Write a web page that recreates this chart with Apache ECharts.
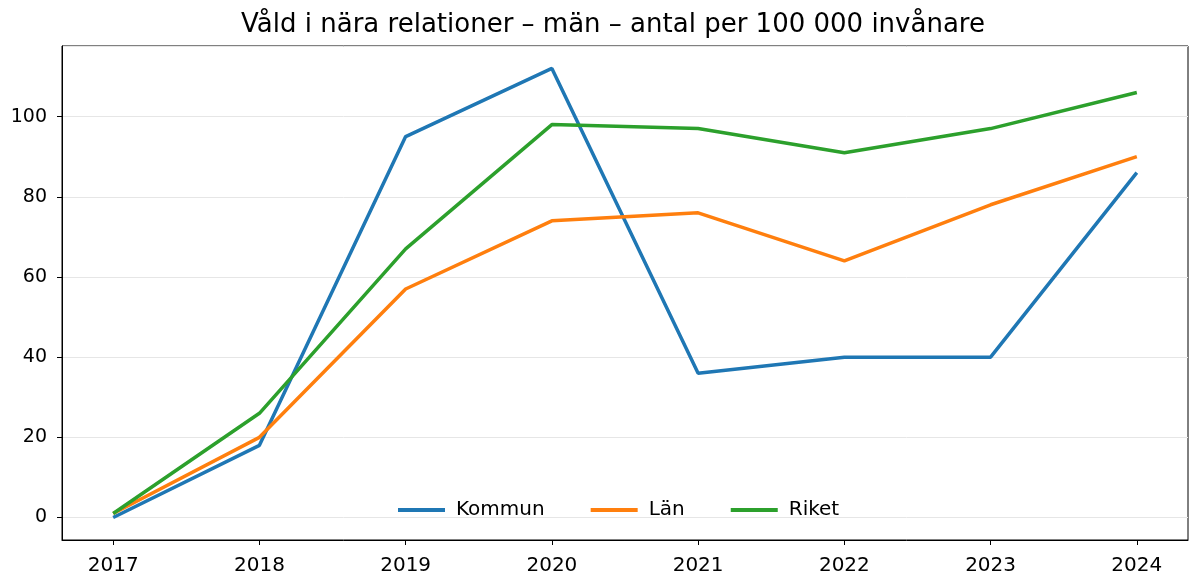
<!DOCTYPE html>
<html>
<head>
<meta charset="utf-8">
<script src="https://cdn.jsdelivr.net/npm/echarts@6/dist/echarts.min.js"></script>
<style>
  html, body { margin: 0; padding: 0; background: #fff; }
  #chart { width: 1192px; height: 577px; }
</style>
</head>
<body>
<div id="chart"></div>
<script>
// Data
const years = [2017, 2018, 2019, 2020, 2021, 2022, 2023, 2024];
const kommun = [0, 18, 95, 112, 36, 40, 40, 86];
const lan = [1, 20, 57, 74, 76, 64, 78, 90];
const riket = [1, 26, 67, 98, 97, 91, 97, 106];
const yTicks = [0, 20, 40, 60, 80, 100];

function pairs(values) {
  return years.map((y, i) => [y, values[i]]);
}

const chart = echarts.init(document.getElementById('chart'));
const font = 'DejaVu Sans';

chart.setOption({
  backgroundColor: '#fff',
  animation: false,
  title: {
    text: 'Våld i nära relationer – män – antal per 100 000 invånare',
    left: 608,
    textAlign: 'center',
    top: 7,
    textStyle: { fontFamily: font, fontSize: 26, fontWeight: 'normal', color: '#000' }
  },
  legend: {
    bottom: 52,
    left: 393,
    itemWidth: 47,
    itemHeight: 4,
    itemGap: 46,
    icon: 'rect',
    textStyle: { fontFamily: font, fontSize: 20, color: '#000', padding: [0, 0, 0, 6] },
    data: ['Kommun', 'Län', 'Riket']
  },
  grid: {
    left: 62, right: 4, top: 46, bottom: 37,
    show: true, borderColor: '#000', borderWidth: 1
  },
  xAxis: {
    type: 'value',
    min: 2016.65,
    max: 2024.35,
    splitNumber: 8,
    axisLine: { show: true, onZero: false, lineStyle: { color: '#000' } },
    axisTick: { show: true, length: 5, lineStyle: { color: '#000' } },
    splitLine: { show: false },
    axisLabel: {
      fontFamily: font, fontSize: 20, color: '#000', margin: 16,
      showMinLabel: false, showMaxLabel: false,
      formatter: v => (years.indexOf(v) >= 0 ? String(v) : '')
    }
  },
  yAxis: {
    type: 'value',
    min: -5.6,
    max: 117.6,
    splitNumber: 6,
    axisLine: { show: true, lineStyle: { color: '#000' } },
    axisTick: { show: true, length: 5, lineStyle: { color: '#000' } },
    splitLine: { show: true, lineStyle: { color: '#e6e6e6', width: 1 } },
    axisLabel: {
      fontFamily: font, fontSize: 19, color: '#000', margin: 15,
      showMinLabel: false, showMaxLabel: false,
      formatter: v => (yTicks.indexOf(v) >= 0 ? String(v) : '')
    }
  },
  series: [
    {
      name: 'Kommun', type: 'line', data: pairs(kommun), showSymbol: false,
      itemStyle: { color: '#1f77b4' }, lineStyle: { width: 3.5, color: '#1f77b4' }
    },
    {
      name: 'Län', type: 'line', data: pairs(lan), showSymbol: false,
      itemStyle: { color: '#ff7f0e' }, lineStyle: { width: 3.5, color: '#ff7f0e' }
    },
    {
      name: 'Riket', type: 'line', data: pairs(riket), showSymbol: false,
      itemStyle: { color: '#2ca02c' }, lineStyle: { width: 3.5, color: '#2ca02c' }
    }
  ]
});

window.addEventListener('resize', function() {
  chart.resize();
});
</script>
</body>
</html>
